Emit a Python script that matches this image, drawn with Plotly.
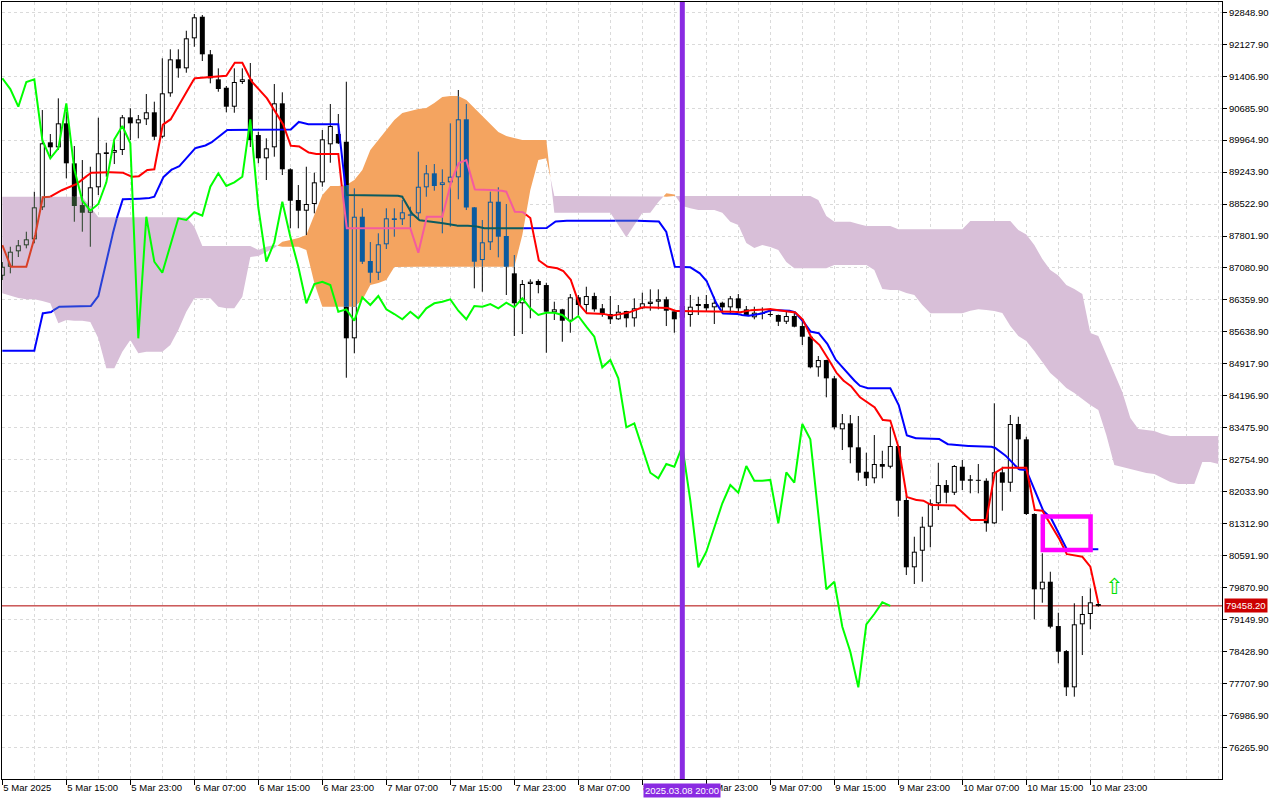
import math
import plotly.graph_objects as go

# ---------------- data ----------------
x_tick_idx = [0, 8, 16, 24, 32, 40, 48, 56, 64, 72, 80, 88, 96, 104, 112, 120, 128, 136]
x_tick_text = ["5 Mar 2025", "5 Mar 15:00", "5 Mar 23:00", "6 Mar 07:00", "6 Mar 15:00",
               "6 Mar 23:00", "7 Mar 07:00", "7 Mar 15:00", "7 Mar 23:00", "8 Mar 07:00",
               "8 Mar 15:00", "8 Mar 23:00", "9 Mar 07:00", "9 Mar 15:00", "9 Mar 23:00",
               "10 Mar 07:00", "10 Mar 15:00", "10 Mar 23:00"]
price_ticks = [92848.9, 92127.9, 91406.9, 90685.9, 89964.9, 89243.9, 88522.9, 87801.9,
               87080.9, 86359.9, 85638.9, 84917.9, 84196.9, 83475.9, 82754.9, 82033.9,
               81312.9, 80591.9, 79870.9, 79149.9, 78428.9, 77707.9, 76986.9, 76265.9]

opens = [86906, 87109, 87457, 87592, 87727, 88449, 89916, 89803, 90344, 89442,
         88501, 88327, 88901, 89690, 89681, 89742, 90480, 90344, 90435, 90593,
         90042, 91021, 91788, 91585, 92262, 92749, 91901, 91337, 91147, 90719,
         91276, 91337, 90080, 89555, 89803, 90796, 89307, 88614, 88373, 88524,
         89013, 89871, 90103, 89929, 85494, 88237, 87238, 86974, 87615, 88201,
         88179, 88290, 88314, 88901, 89216, 88952, 89013, 89126, 90435, 88449,
         87260, 87660, 88576, 87802, 86960, 86284, 86719, 86787, 86696, 86080,
         86148, 85891, 86419, 86245, 86448, 86171, 86042, 85923, 86110, 85945,
         86171, 86268, 86320, 86374, 86103, 85960, 86020, 86223, 86268, 86193,
         86297, 86193, 86396, 86148, 85968, 86042, 86042, 86020, 85868, 85997,
         85771, 85530, 84840, 85004, 84591, 83441, 83576, 83035, 82484, 82336,
         82658, 82597, 83064, 81846, 80328, 80702, 81244, 81772, 82184, 82011,
         82597, 82313, 82281, 82281, 81320, 82471, 82236, 83561, 83215, 81530,
         79831, 80003, 79003, 78439, 77620, 79042, 79274, 79500]
highs = [87215, 87560, 87712, 87899, 88801, 90644, 90103, 90908, 90606, 89832,
         89516, 89365, 90471, 89907, 89983, 90532, 90683, 90532, 91005, 90832,
         91811, 92014, 92014, 92433, 92810, 92788, 91998, 91585, 91186, 91585,
         91585, 91705, 90155, 90006, 91231, 91044, 89329, 88952, 89365, 89230,
         90193, 90780, 90554, 91283, 88878, 88427, 87666, 87863, 88427, 88427,
         88614, 88463, 89704, 89404, 89426, 89307, 90344, 91096, 90780, 88455,
         88163, 88801, 88901, 88524, 87373, 86809, 86825, 86825, 86748, 86320,
         86160, 86493, 86471, 86658, 86523, 86268, 86448, 86245, 86115, 86396,
         86523, 86599, 86599, 86432, 86110, 86358, 86471, 86432, 86471, 86432,
         86320, 86448, 86493, 86223, 86207, 86193, 86148, 86030, 86094, 86094,
         85907, 85546, 85095, 85010, 84643, 83786, 83764, 83741, 82913, 83312,
         82958, 83500, 83086, 81959, 81018, 81469, 81862, 82687, 82297, 82636,
         82748, 82410, 82658, 82336, 84028, 82597, 83764, 83725, 83274, 81545,
         80644, 80228, 79303, 78461, 79516, 79680, 79854, 79530]
lows = [86809, 86960, 87328, 87524, 87637, 88388, 89591, 89742, 89104, 88124,
        87899, 87560, 88727, 89140, 89426, 89629, 89968, 90006, 90306, 89968,
        90006, 90944, 91373, 91486, 92072, 91750, 91247, 91057, 90593, 90583,
        91231, 89810, 89442, 89065, 89591, 89178, 87976, 87976, 87824, 88314,
        88914, 89455, 89877, 84605, 85156, 87170, 86748, 86809, 87509, 87786,
        88050, 87976, 88163, 88688, 88824, 87863, 88012, 88630, 88388, 86622,
        86545, 87486, 87321, 86471, 85546, 85591, 85945, 86509, 85169, 85907,
        85417, 85620, 86020, 86058, 86094, 85981, 85817, 85910, 85742, 85756,
        86160, 86117, 86148, 85771, 85620, 85900, 85756, 86020, 86090, 85817,
        86058, 86042, 86072, 85997, 85923, 85923, 85981, 85771, 85817, 85742,
        85343, 84817, 84628, 84163, 83441, 82974, 82674, 82281, 82162, 82223,
        82336, 82561, 81469, 80154, 79951, 80003, 80779, 81620, 81772, 81959,
        82072, 81997, 81997, 81131, 81306, 81605, 82033, 82523, 81508, 79155,
        79529, 78952, 78162, 77424, 77409, 78349, 78929, 79440]
closes = [87109, 87448, 87592, 87727, 88449, 89893, 89803, 90344, 89442, 88479,
          88327, 88901, 89668, 89652, 89742, 90480, 90344, 90435, 90593, 90042,
          91021, 91788, 91585, 92262, 92736, 91901, 91360, 91118, 90719, 91276,
          91337, 89968, 89555, 89780, 90796, 89307, 88598, 88373, 88524, 89013,
          89983, 90283, 89893, 85494, 88237, 87222, 86974, 87615, 88201, 88163,
          88337, 88260, 88914, 89216, 88930, 89013, 89140, 90435, 88445, 87222,
          87660, 88576, 87786, 87109, 86284, 86719, 86771, 86696, 86094, 86148,
          85891, 86419, 86245, 86448, 86148, 86042, 85923, 86094, 85945, 86171,
          86284, 86320, 86374, 86117, 85923, 86223, 86207, 86268, 86171, 86297,
          86193, 86396, 86171, 86020, 86072, 86072, 86020, 85868, 85997, 85756,
          85530, 84840, 85004, 84591, 83486, 83576, 83035, 82462, 82336, 82658,
          82597, 83064, 81830, 80328, 80680, 81244, 81772, 82184, 82011, 82613,
          82281, 82281, 82300, 81320, 82471, 82236, 83561, 83215, 81530, 79831,
          80003, 78988, 78424, 77620, 79042, 79274, 79538, 79458.2]

tenkan = [87599, 87109, 87109, 87109, 87712, 88675, 88688, 88801, 88878, 88937,
          89065, 89230, 89239, 89239, 89239, 89239, 89140, 89140, 89291, 89307,
          90306, 90419, 90719, 91021, 91360, 91373, 91396, 91396, 91418, 91711,
          91711, 91321, 91134, 90931, 90644, 90380, 89839, 89839, 89704, 89652,
          89652, 89652, 89652, 87976, 87976, 87976, 87976, 87976, 87976, 87976,
          87976, 87976, 87425, 88237, 88237, 88237, 88991, 89442, 89516, 88855,
          88840, 88840, 88840, 88801, 88350, 88350, 88208, 87261, 87114, 87096,
          87035, 86848, 86284, 86058, 86058, 86058, 85997, 86042, 86058, 86117,
          86193, 86193, 86193, 86193, 86110, 86110, 86110, 86110, 86110, 86110,
          86110, 86110, 86072, 86117, 86132, 86148, 86155, 86132, 86117, 86094,
          85945, 85530, 85381, 85117, 84779, 84553, 84440, 84192, 84064, 83951,
          83651, 83635, 83087, 81920, 81846, 81846, 81733, 81733, 81733, 81733,
          81559, 81395, 81395, 81395, 82448, 82575, 82575, 82575, 82575, 81620,
          81605, 81320, 81018, 80628, 80605, 80567, 80341, 79516]
kijun = [85214, 85214, 85214, 85214, 85214, 86058, 86072, 86207, 86207, 86207,
         86207, 86207, 86448, 87186, 88012, 88630, 88643, 88643, 88643, 88688,
         89104, 89291, 89352, 89555, 89780, 89816, 89893, 90042, 90193, 90193,
         90193, 90193, 90193, 90193, 90193, 90193, 90193, 90380, 90322, 90322,
         90322, 90322, 90322, 88727, 88727, 88727, 88727, 88727, 88727, 88727,
         88688, 88350, 88163, 88147, 88124, 88088, 88050, 88034, 88034, 88034,
         87976, 87976, 87976, 87976, 87976, 87976, 87976, 87976, 87976, 88124,
         88147, 88147, 88147, 88147, 88147, 88147, 88147, 88147, 88147, 88147,
         88147, 88147, 88147, 87892, 87109, 87109, 87096, 86996, 86809, 86358,
         86058, 86042, 86042, 85997, 86020, 86058, 86132, 86132, 86132, 86094,
         85907, 85643, 85620, 85417, 85043, 84853, 84643, 84440, 84366, 84366,
         84366, 84366, 84028, 83312, 83238, 83238, 83238, 83238, 83109, 83086,
         83064, 83064, 83064, 83064, 83035, 82913, 82748, 82539, 82523, 82072,
         81620, 81469, 81095, 80734, 80734, 80734, 80734, 80734]

span_a = [86509, 86448, 86403, 86374, 86374, 86335, 86284, 85832, 85907, 85891,
          85891, 85862, 85494, 84817, 84817, 85192, 85456, 85156, 85192, 85192,
          85192, 85343, 85681, 86094, 86396, 86396, 86396, 86207, 86171, 86171,
          86432, 87328, 87351, 87441, 87531, 87673, 87712, 87757, 87824, 88276,
          88727, 88930, 88930, 88952, 89065, 89291, 89742, 89968, 90193, 90419,
          90577, 90622, 90667, 90690, 90802, 90938, 90960, 90960, 90870, 90690,
          90509, 90329, 90148, 90058, 90013, 89968, 89968, 89968, 89968, 88327,
          88327, 88327, 88327, 88327, 88327, 88327, 88327, 88050, 87772, 88050,
          88321, 88327, 88569, 88765, 88738, 88479, 88427, 88388, 88388, 88388,
          88327, 88124, 88050, 87644, 87531, 87599, 87554, 87486, 87215, 87073,
          87073, 87073, 87073, 87073, 87148, 87148, 87148, 87148, 87148, 87035,
          86606, 86584, 86584, 86516, 86471, 86245, 86058, 86058, 86058, 86058,
          86058, 86117, 86148, 86132, 86110, 86065, 85771, 85546, 85433, 85207,
          84948, 84711, 84553, 84373, 84260, 84125, 83989, 83876, 83312, 82636,
          82590, 82545, 82500, 82455, 82433, 82342, 82252, 82207, 82207, 82207,
          82703, 82703, 82658]
span_b = [88688, 88688, 88688, 88688, 88688, 88688, 88688, 88688, 88688, 88688,
          88688, 88463, 88224, 88224, 88224, 88224, 88224, 88224, 88224, 88224,
          88224, 88224, 88224, 88224, 88012, 87576, 87576, 87576, 87576, 87576,
          87576, 87576, 87486, 87560, 87599, 87560, 87560, 87560, 87486, 86742,
          86207, 86207, 86207, 86207, 86207, 86358, 86696, 86742, 86809, 87102,
          87109, 87109, 87109, 87109, 87109, 87109, 87109, 87109, 87109, 87109,
          87109, 87109, 87109, 87109, 87109, 87824, 88840, 89516, 89555, 88704,
          88704, 88704, 88704, 88704, 88704, 88704, 88704, 88704, 88704, 88704,
          88704, 88704, 88704, 88688, 88704, 88704, 88704, 88704, 88704, 88704,
          88704, 88704, 88704, 88704, 88704, 88704, 88704, 88704, 88704, 88704,
          88704, 88704, 88614, 88253, 88124, 88124, 88124, 88073, 88027, 88027,
          88027, 88027, 87953, 87953, 87953, 87953, 87953, 87953, 87953, 87953,
          87953, 88140, 88140, 88140, 88140, 88140, 88140, 87937, 87836, 87599,
          87283, 87035, 86911, 86696, 86606, 86493, 85614, 85546, 85117, 84689,
          84282, 83696, 83448, 83425, 83403, 83335, 83290, 83290, 83290, 83290,
          83290, 83290, 83290]

chikou_shift = 26
vline_idx = 85
vline_label = "2025.03.08 20:00"
last_price = 79458.2
box_idx = [130.06, 136.03]
box_price = [80718, 81474]
arrow_idx = [139]
arrow_price = [79840]

# ---------------- styling ----------------
X_RANGE = [-0.04, 152.46]
Y_RANGE = [75552.1, 93081.3]
PLOT_H = 777
PX = (Y_RANGE[1] - Y_RANGE[0]) / PLOT_H     # price per pixel
GRID = "#dadada"
ORANGE = "#F4A460"
THISTLE = "#D8BFD8"
INK = {None: "#000000", "o": "#0B5B9F", "p": "#274027"}
PAPER = {None: "#FFFFFF", "o": ORANGE, "p": THISTLE}
RED_MAP = {None: "#FF0000", "o": "#F45B9F", "p": "#D84027"}
BLUE_MAP = {None: "#0000FF", "o": "#0B5B60", "p": "#2740D8"}
FONT = "Liberation Sans"

N_CLOUD = len(span_a)


def cloud_at(x):
    if x < 0 or x > N_CLOUD - 1:
        return None
    i0 = min(int(math.floor(x)), N_CLOUD - 2)
    t = x - i0
    av = span_a[i0] + t * (span_a[i0 + 1] - span_a[i0])
    bv = span_b[i0] + t * (span_b[i0 + 1] - span_b[i0])
    if av > bv:
        return ("o", bv, av)
    return ("p", av, bv)


def split_interval(x, y0, y1):
    z = cloud_at(x)
    if z is None:
        return [(y0, y1, None)]
    k, lo, hi = z
    pieces = []
    if y0 < lo:
        pieces.append((y0, min(y1, lo), None))
    a0, a1 = max(y0, lo), min(y1, hi)
    if a1 > a0:
        pieces.append((a0, a1, k))
    if y1 > hi:
        pieces.append((max(y0, hi), y1, None))
    return pieces


def split_line(xs, ys, cmap, sub=16):
    out = {}
    cur = None
    for k in range(len(xs) - 1):
        x0, y0, x1, y1 = xs[k], ys[k], xs[k + 1], ys[k + 1]
        for s in range(sub):
            ta, tb = s / sub, (s + 1) / sub
            xa, ya = x0 + (x1 - x0) * ta, y0 + (y1 - y0) * ta
            xb, yb = x0 + (x1 - x0) * tb, y0 + (y1 - y0) * tb
            xm, ym = (xa + xb) / 2, (ya + yb) / 2
            z = cloud_at(xm)
            kind = z[0] if (z is not None and z[1] <= ym <= z[2]) else None
            col = cmap[kind]
            X, Y = out.setdefault(col, ([], []))
            if col != cur:
                if X:
                    X.append(None)
                    Y.append(None)
                X.append(xa)
                Y.append(ya)
                cur = col
            X.append(xb)
            Y.append(yb)
    return out


fig = go.Figure()

# ---- cloud (Senkou span A / B) ----
segs = []
cur = None
for i in range(N_CLOUD):
    up = span_a[i] > span_b[i]
    pt = (i, min(span_a[i], span_b[i]), max(span_a[i], span_b[i]))
    if cur is None:
        cur = {"up": up, "pts": [pt]}
    elif up == cur["up"]:
        cur["pts"].append(pt)
    else:
        d0 = span_a[i - 1] - span_b[i - 1]
        d1 = span_a[i] - span_b[i]
        t = d0 / (d0 - d1)
        xc = i - 1 + t
        yc = span_a[i - 1] + t * (span_a[i] - span_a[i - 1])
        cur["pts"].append((xc, yc, yc))
        segs.append(cur)
        cur = {"up": up, "pts": [(xc, yc, yc), pt]}
segs.append(cur)

for sg in segs:
    xs = [p[0] for p in sg["pts"]]
    lo = [p[1] for p in sg["pts"]]
    hi = [p[2] for p in sg["pts"]]
    col = ORANGE if sg["up"] else THISTLE
    fig.add_trace(go.Scatter(x=xs, y=lo, mode="lines", line=dict(width=0, color=col),
                             hoverinfo="skip"))
    fig.add_trace(go.Scatter(x=xs, y=hi, mode="lines", line=dict(width=0, color=col),
                             fill="tonexty", fillcolor=col, hoverinfo="skip"))

# ---- candles (vertical strokes, grouped by width and colour) ----
strokes = {}


def add_stroke(width, col, x, y0, y1):
    X, Y = strokes.setdefault((width, col), ([], []))
    X.extend([x, x, None])
    Y.extend([y0, y1, None])


for i in range(len(opens)):
    o, h, l, c = opens[i], highs[i], lows[i], closes[i]
    for (y0, y1, k) in split_interval(i, l, h):
        add_stroke(1, INK[k], i, y0, y1)
    top, bot = max(o, c), min(o, c)
    if top - bot < PX:
        mid = (top + bot) / 2
        top, bot = mid + PX / 2, mid - PX / 2
    for (y0, y1, k) in split_interval(i, bot, top):
        add_stroke(5, INK[k], i, y0, y1)
    if c > o and top - bot > 2 * PX:
        for (y0, y1, k) in split_interval(i, bot + PX, top - PX):
            add_stroke(3, PAPER[k], i, y0, y1)

for width in (1, 5, 3):
    for (w, col), (X, Y) in strokes.items():
        if w != width:
            continue
        fig.add_trace(go.Scatter(x=X, y=Y, mode="lines", line=dict(color=col, width=w),
                                 hoverinfo="skip"))

# ---- Tenkan / Kijun ----
idx = list(range(len(tenkan)))
for cmap, vals in ((BLUE_MAP, kijun), (RED_MAP, tenkan)):
    parts = split_line(idx, vals, cmap)
    for col, (X, Y) in parts.items():
        fig.add_trace(go.Scatter(x=X, y=Y, mode="lines", line=dict(color=col, width=2),
                                 hoverinfo="skip"))

# ---- Chikou (close shifted back) ----
chikou_y = closes[chikou_shift:]
chikou_x = list(range(len(chikou_y)))
fig.add_trace(go.Scatter(x=chikou_x, y=chikou_y, mode="lines",
                         line=dict(color="#00FF00", width=2), hoverinfo="skip"))

# ---- signal arrow ----
fig.add_trace(go.Scatter(x=arrow_idx, y=arrow_price, mode="text", text=["\u21e7"],
                         textposition="middle center",
                         textfont=dict(color="#00E000", size=22, family="DejaVu Sans"),
                         hoverinfo="skip"))

fig.update_layout(
    width=1280, height=800,
    margin=dict(l=2, r=58, t=2, b=21, autoexpand=False),
    paper_bgcolor="white", plot_bgcolor="white",
    showlegend=False, hovermode=False,
    font=dict(family=FONT, size=9.5, color="black"),
    shapes=[
        dict(type="line", xref="paper", x0=0, x1=1, yref="y", y0=last_price, y1=last_price,
             line=dict(color="#b00000", width=1), layer="between"),
        dict(type="line", xref="x", x0=vline_idx, x1=vline_idx, yref="paper", y0=0, y1=1,
             line=dict(color="#8A2BE2", width=5), layer="above"),
        dict(type="rect", xref="x", yref="y", x0=box_idx[0], x1=box_idx[1],
             y0=box_price[0], y1=box_price[1], line=dict(color="#FF00FF", width=4.5),
             fillcolor="rgba(0,0,0,0)", layer="above"),
    ],
    annotations=[
        dict(x=1, xref="paper", xanchor="left", xshift=2, y=last_price, yref="y",
             text=f"{last_price:.2f}", showarrow=False, bgcolor="#cc0000",
             font=dict(color="white", size=9.5, family=FONT), borderpad=1),
        dict(x=vline_idx, xref="x", xanchor="center", y=0, yref="paper", yanchor="top",
             yshift=-4, text=vline_label, showarrow=False, bgcolor="#8A2BE2",
             font=dict(color="white", size=9.5, family=FONT), borderpad=1),
    ],
)

fig.update_xaxes(
    range=X_RANGE, tickmode="array", tickvals=x_tick_idx, ticktext=x_tick_text,
    ticks="outside", ticklen=5, tickcolor="black", ticklabelposition="outside right",
    tickangle=0, automargin=False,
    showgrid=True, gridcolor=GRID, griddash="3px,3px", gridwidth=1,
    minor=dict(tickmode="array", tickvals=list(range(0, 153, 4)), showgrid=True,
               gridcolor=GRID, griddash="3px,3px", gridwidth=1, ticks=""),
    showline=True, mirror=True, linecolor="black", linewidth=1, zeroline=False,
)
fig.update_yaxes(
    range=Y_RANGE, side="right", tickmode="array", tickvals=price_ticks,
    ticktext=[f"{v:.2f}" for v in price_ticks], automargin=False,
    ticks="outside", ticklen=4, tickcolor="black",
    showgrid=True, gridcolor=GRID, griddash="3px,3px", gridwidth=1,
    showline=True, mirror=True, linecolor="black", linewidth=1, zeroline=False,
)

fig.write_html("out.html", config={"displayModeBar": False},
               post_script="document.body.style.margin='0';document.body.style.overflow='hidden';")
